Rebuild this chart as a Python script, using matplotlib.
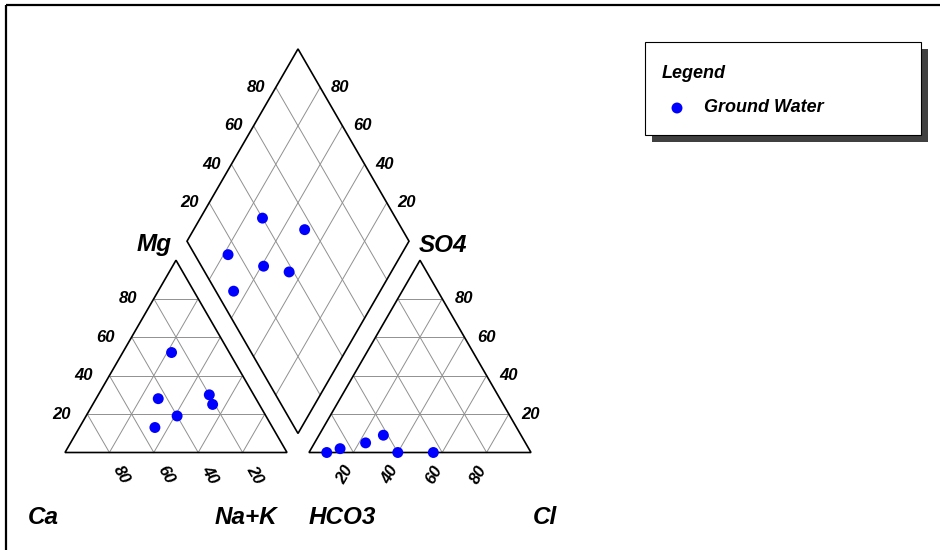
import numpy as np
import matplotlib
matplotlib.use("Agg")
import matplotlib.pyplot as plt
from matplotlib.patches import Polygon, Rectangle

plt.rcParams['font.family'] = ['Liberation Sans', 'DejaVu Sans']

# ---- data (percent of meq) ----
ca   = [26, 44, 40, 53, 20, 21]
mg   = [52, 28, 19, 13, 30, 25]
nak  = [22, 28, 41, 34, 50, 54]
hco3 = [85, 60, 72, 92, 44, 62]
cl   = [13, 40, 23, 8, 56, 29]
so4  = [2, 0, 5, 0, 0, 9]
ticks = [20, 40, 60, 80]
series_name = "Ground Water"

# ---- geometry (pixels) ----
W, H = 940, 550
L = 222.0
h = np.sqrt(3) / 2
gap = 22.0
x0, y0 = 65.0, 452.5          # Ca vertex of cation triangle
x1 = x0 + L + gap             # HCO3 vertex of anion triangle
Bx, By = (x0 + L + x1) / 2, y0 - gap * h   # diamond bottom vertex


def cat_xy(c, m, n):
    c, m, n = np.asarray(c, float), np.asarray(m, float), np.asarray(n, float)
    return x0 + L * (n + m / 2) / 100, y0 - L * h * m / 100


def an_xy(hc, c, s):
    hc, c, s = np.asarray(hc, float), np.asarray(c, float), np.asarray(s, float)
    return x1 + L * (c + s / 2) / 100, y0 - L * h * s / 100


def dia_xy(cm, sc):
    cm, sc = np.asarray(cm, float), np.asarray(sc, float)
    return Bx + L / 2 * (sc - cm) / 100, By - L * h * (cm + sc) / 100


fig = plt.figure(figsize=(W / 100, H / 100), dpi=100)
ax = fig.add_axes([0, 0, 1, 1])
ax.set_xlim(0, W)
ax.set_ylim(H, 0)
ax.axis('off')

gcol = '#909090'
glw = 0.7
olw = 1.2
tfont = dict(fontsize=12, fontweight='bold', fontstyle='italic', color='black')

# ---- cation triangle ----
for k in ticks:
    for a, b in [((100 - k, k, 0), (0, k, 100 - k)),
                 ((k, 100 - k, 0), (k, 0, 100 - k)),
                 ((100 - k, 0, k), (0, 100 - k, k))]:
        xa, ya = cat_xy(*a)
        xb, yb = cat_xy(*b)
        ax.plot([xa, xb], [ya, yb], color=gcol, lw=glw, zorder=1)
cx, cy = cat_xy([100, 0, 0], [0, 100, 0], [0, 0, 100])
ax.add_patch(Polygon(np.c_[cx, cy], closed=True, fill=False, ec='black', lw=olw, zorder=2))

# ---- anion triangle ----
for k in ticks:
    for a, b in [((100 - k, 0, k), (0, 100 - k, k)),
                 ((k, 100 - k, 0), (k, 0, 100 - k)),
                 ((100 - k, k, 0), (0, k, 100 - k))]:
        xa, ya = an_xy(*a)
        xb, yb = an_xy(*b)
        ax.plot([xa, xb], [ya, yb], color=gcol, lw=glw, zorder=1)
axx, ayy = an_xy([100, 0, 0], [0, 100, 0], [0, 0, 100])
ax.add_patch(Polygon(np.c_[axx, ayy], closed=True, fill=False, ec='black', lw=olw, zorder=2))

# ---- diamond ----
for k in ticks:
    xa, ya = dia_xy([k, k], [0, 100])
    ax.plot(xa, ya, color=gcol, lw=glw, zorder=1)
    xa, ya = dia_xy([0, 100], [k, k])
    ax.plot(xa, ya, color=gcol, lw=glw, zorder=1)
dx, dy = dia_xy([0, 100, 100, 0], [0, 0, 100, 100])
ax.add_patch(Polygon(np.c_[dx, dy], closed=True, fill=False, ec='black', lw=olw, zorder=2))

# ---- tick labels ----
for k in ticks:
    # Mg side of cation triangle
    tx, ty = cat_xy(100 - k, k, 0)
    ax.text(tx - 26, ty, str(k), ha='center', va='center', **tfont)
    # Ca along base
    tx, ty = cat_xy(k, 0, 100 - k)
    ax.text(tx + 12, ty + 22, str(k), ha='center', va='center', rotation=-60, **tfont)
    # SO4 side of anion triangle
    tx, ty = an_xy(0, 100 - k, k)
    ax.text(tx + 22, ty, str(k), ha='center', va='center', **tfont)
    # Cl along base
    tx, ty = an_xy(100 - k, k, 0)
    ax.text(tx - 8, ty + 22, str(k), ha='center', va='center', rotation=60, **tfont)
    # diamond upper-left edge (SO4+Cl)
    tx, ty = dia_xy(100, k)
    ax.text(tx - 20, ty, str(k), ha='center', va='center', **tfont)
    # diamond upper-right edge (Ca+Mg)
    tx, ty = dia_xy(k, 100)
    ax.text(tx + 20, ty, str(k), ha='center', va='center', **tfont)

# ---- axis names ----
nfont = dict(fontsize=17.5, fontweight='bold', fontstyle='italic', color='black',
             ha='center', va='center')
ax.text(154, 245, 'Mg', **nfont)
ax.text(443, 245, 'SO4', **nfont)
ax.text(43, 518, 'Ca', **nfont)
ax.text(246, 518, 'Na+K', **nfont)
ax.text(342, 518, 'HCO3', **nfont)
ax.text(545, 518, 'Cl', **nfont)

# ---- data points ----
ms = 62
px, py = cat_xy(ca, mg, nak)
ax.scatter(px, py, s=ms, c='#0000ff', edgecolors='none', zorder=5)
px, py = an_xy(hco3, cl, so4)
ax.scatter(px, py, s=ms, c='#0000ff', edgecolors='none', zorder=5)
px, py = dia_xy(np.add(ca, mg), np.add(so4, cl))
ax.scatter(px, py, s=ms, c='#0000ff', edgecolors='none', zorder=5)

# ---- legend box ----
ax.add_patch(Rectangle((652, 49), 276, 93, fc='#404040', ec='none', zorder=6))
ax.add_patch(Rectangle((645, 42), 276, 93, fc='white', ec='black', lw=0.8, zorder=7))
ax.text(662, 73, 'Legend', fontsize=13, fontweight='bold', fontstyle='italic',
        ha='left', va='center', zorder=8)
ax.scatter([677], [108], s=ms, c='#0000ff', edgecolors='none', zorder=8)
ax.text(704, 108, series_name, fontsize=13, fontweight='bold', fontstyle='italic',
        ha='left', va='center', zorder=8)

# ---- frame (top and left) ----
ax.plot([6, W], [5, 5], color='black', lw=1.6, zorder=9, solid_capstyle='butt')
ax.plot([6, 6], [5, H], color='black', lw=1.6, zorder=9, solid_capstyle='butt')

fig.savefig('out.png', dpi=100)
